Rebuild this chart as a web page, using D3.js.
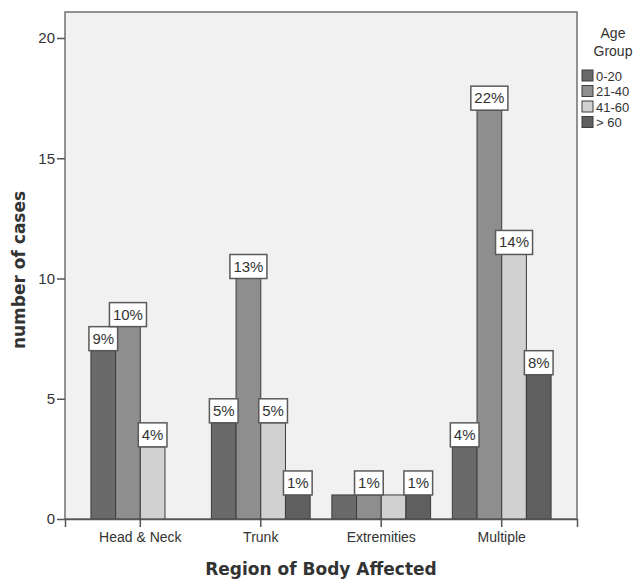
<!DOCTYPE html>
<html>
<head>
<meta charset="utf-8">
<script src="https://cdn.jsdelivr.net/npm/d3@7"></script>
<style>
  body { margin: 0; background: #fff; }
  text { font-family: "Liberation Sans", Arial, sans-serif; fill: #333; }
</style>
</head>
<body>
<div id="chart"></div>
<script>
// Data
var regions = ["Head & Neck", "Trunk", "Extremities", "Multiple"];
var ageGroups = ["0-20", "21-40", "41-60", "> 60"];
var cases0to20 = [7, 4, 1, 3];
var cases21to40 = [8, 10, 1, 17];
var cases41to60 = [3, 4, 1, 11];
var casesOver60 = [0, 1, 1, 6];
// percentage labels (null = not shown)
var pct0to20 = ["9%", "5%", null, "4%"];
var pct21to40 = ["10%", "13%", "1%", "22%"];
var pct41to60 = ["4%", "5%", null, "14%"];
var pctOver60 = [null, "1%", "1%", "8%"];
var yTicks = [0, 5, 10, 15, 20];

var seriesValues = [cases0to20, cases21to40, cases41to60, casesOver60];
var seriesLabels = [pct0to20, pct21to40, pct41to60, pctOver60];
var colors = ["#6a6a6a", "#8e8e8e", "#d1d1d1", "#5f5f5f"];

var width = 639, height = 581;
var plot = { left: 65, right: 577, top: 12, bottom: 519 };
var titleFont = "'DejaVu Sans', Verdana, sans-serif";
var tickFont = "'Liberation Sans', Arial, sans-serif";

var svg = d3.select("#chart").append("svg")
    .attr("width", width)
    .attr("height", height);

// Scales
var y = d3.scaleLinear()
    .domain([0, 20])
    .range([plot.bottom, 38]);

var x0 = d3.scaleBand()
    .domain(regions)
    .range([plot.left, plot.right])
    .paddingInner(0)
    .paddingOuter(0.125);

var x1 = d3.scaleBand()
    .domain(ageGroups)
    .range([0, x0.bandwidth()])
    .paddingInner(0)
    .paddingOuter(0.44);

// Plot background
svg.append("rect")
    .attr("x", plot.left)
    .attr("y", plot.top)
    .attr("width", plot.right - plot.left)
    .attr("height", plot.bottom - plot.top)
    .attr("fill", "#f1f1f1")
    .attr("stroke", "#707070")
    .attr("stroke-width", 1.5);

// Flatten the data
var bars = [];
regions.forEach(function (r, i) {
    ageGroups.forEach(function (g, j) {
        bars.push({ region: r, group: g, gi: j, value: seriesValues[j][i], label: seriesLabels[j][i] });
    });
});

// Bars
svg.selectAll("rect.bar")
    .data(bars.filter(function (d) { return d.value > 0; }))
    .enter()
    .append("rect")
    .attr("class", "bar")
    .attr("x", function (d) { return x0(d.region) + x1(d.group); })
    .attr("y", function (d) { return y(d.value); })
    .attr("width", x1.bandwidth())
    .attr("height", function (d) { return y(0) - y(d.value); })
    .attr("fill", function (d) { return colors[d.gi]; })
    .attr("stroke", "#3c3c3c")
    .attr("stroke-width", 1);

// Axes
var yAxis = svg.append("g")
    .attr("transform", "translate(" + plot.left + ",0)")
    .call(d3.axisLeft(y).tickValues(yTicks).tickSize(8).tickPadding(2));
yAxis.select(".domain").remove();
yAxis.selectAll("line").attr("stroke", "#555").attr("stroke-width", 1.5);
yAxis.selectAll("text").style("font-size", "15px").attr("fill", "#444")
    .style("font-family", tickFont);

var xAxis = svg.append("g")
    .attr("transform", "translate(0," + plot.bottom + ")")
    .call(d3.axisBottom(x0).tickSize(8).tickPadding(5));
xAxis.select(".domain").attr("stroke", "#555").attr("stroke-width", 1.5);
xAxis.selectAll("line").attr("stroke", "#555").attr("stroke-width", 1.5);
xAxis.selectAll("text").style("font-size", "14px").attr("fill", "#444")
    .style("font-family", tickFont);

// Percentage label boxes
var labelled = bars.filter(function (d) { return d.label; });
var lab = svg.selectAll("g.lab")
    .data(labelled)
    .enter()
    .append("g")
    .attr("class", "lab");

lab.each(function (d) {
    var g = d3.select(this);
    var cx = x0(d.region) + x1(d.group) + x1.bandwidth() / 2;
    var top = y(d.value);
    var box = g.append("rect");
    var t = g.append("text")
        .attr("x", cx)
        .attr("y", top - 7)
        .attr("text-anchor", "middle")
        .style("font-size", "15px")
        .text(d.label);
    var w = t.node().getComputedTextLength() + 7;
    box.attr("x", cx - w / 2)
        .attr("y", top - 24)
        .attr("width", w)
        .attr("height", 24)
        .attr("fill", "#fff")
        .attr("stroke", "#5a5a5a")
        .attr("stroke-width", 1.5);
});

// Axis titles
svg.append("text")
    .attr("transform", "translate(25,270) rotate(-90)")
    .attr("text-anchor", "middle")
    .style("font-family", titleFont)
    .style("font-size", "17px")
    .style("font-weight", "bold")
    .text("number of cases");

svg.append("text")
    .attr("x", (plot.left + plot.right) / 2)
    .attr("y", 575)
    .attr("text-anchor", "middle")
    .style("font-family", titleFont)
    .style("font-size", "17px")
    .style("font-weight", "bold")
    .text("Region of Body Affected");

// Legend
var legend = svg.append("g").attr("transform", "translate(582,0)");
legend.append("text").attr("x", 31).attr("y", 38).attr("text-anchor", "middle")
    .style("font-size", "14px").text("Age");
legend.append("text").attr("x", 31).attr("y", 56).attr("text-anchor", "middle")
    .style("font-size", "14px").text("Group");

var items = legend.selectAll("g.item")
    .data(ageGroups)
    .enter()
    .append("g")
    .attr("class", "item")
    .attr("transform", function (d, i) { return "translate(0," + (70 + i * 15.5) + ")"; });

items.append("rect")
    .attr("width", 11)
    .attr("height", 11)
    .attr("fill", function (d, i) { return colors[i]; })
    .attr("stroke", "#3c3c3c")
    .attr("stroke-width", 1);

items.append("text")
    .attr("x", 14)
    .attr("y", 10.5)
    .style("font-size", "13px")
    .text(function (d) { return d; });
</script>
</body>
</html>
